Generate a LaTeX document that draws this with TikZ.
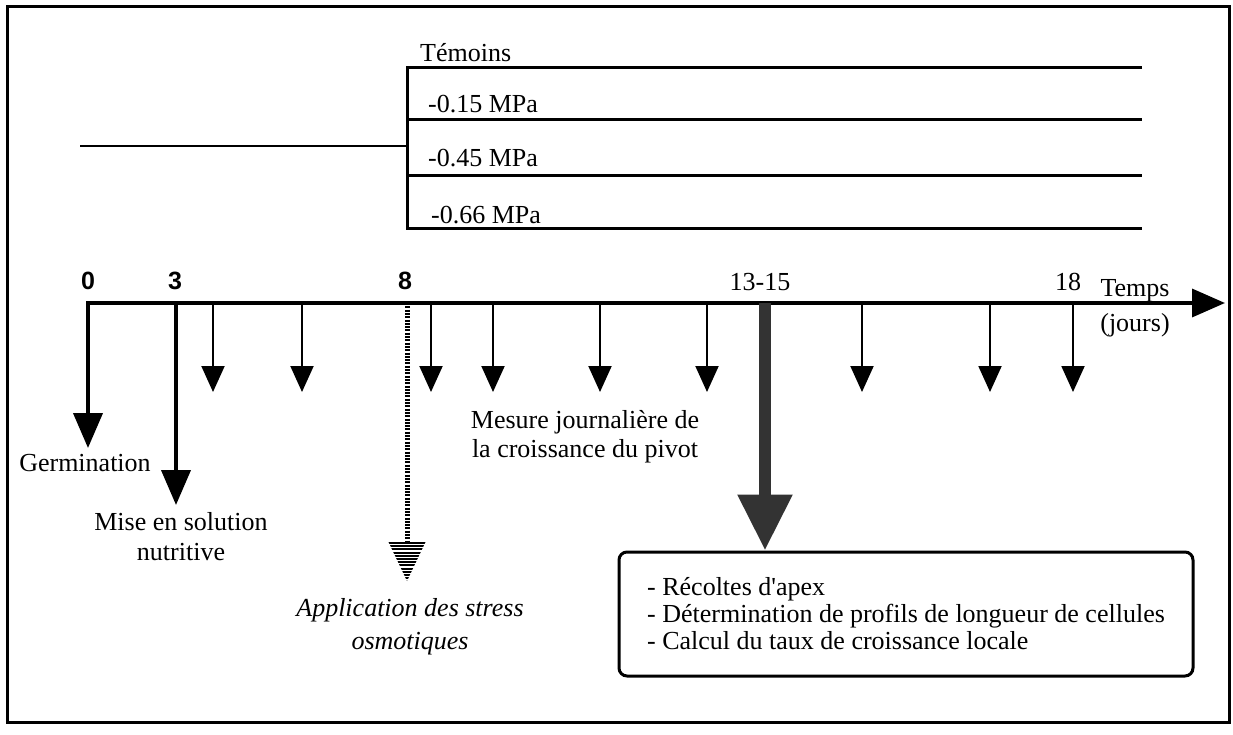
\documentclass[tikz,border=0pt]{standalone}
\usepackage{fontspec}
\setmainfont{Liberation Serif}
\setsansfont{Liberation Sans}
\usetikzlibrary{arrows.meta,positioning}

\begin{document}
\begin{tikzpicture}[x=1pt, y=-1pt,
    lbl/.style={font=\fontsize{26}{30}\selectfont, inner sep=0pt},
    lblit/.style={font=\itshape\fontsize{26}{33}\selectfont, inner sep=0pt},
    tick/.style={font=\sffamily\bfseries\fontsize{25}{29}\selectfont, inner sep=0pt},
    trait/.style={line width=3pt},
    etape/.style={-{Triangle[width=29pt,length=35pt]}, line width=4pt},
    mesure/.style={-{Triangle[width=23pt,length=26pt]}, line width=2pt},
    bilanbox/.style={draw, rounded corners=8pt, line width=3pt,
               minimum width=574pt, minimum height=124pt, align=left,
               font=\fontsize{26}{27}\selectfont, inner sep=0pt}
  ]
  \useasboundingbox (0,0) rectangle (1233,735);
  \draw[line width=3pt] (7,7) rectangle (1229,722);

  % traitements
  \coordinate (depart) at (80,146);
  \coordinate (embranch) at (407,146);
  \draw[line width=2pt] (depart) -- (embranch);
  \draw[trait] (1142,68) -| (407,229) -- (1142,229);
  \foreach \y in {120,176}
    \draw[trait] (407,\y) -- (1142,\y);
  \node[lbl, anchor=west] (temoins) at (420,53)  {Témoins};
  \node[lbl, anchor=west] (p015)    at (428,104) {-0.15 MPa};
  \node[lbl, anchor=west] (p045)    at (428,158) {-0.45 MPa};
  \node[lbl, anchor=west] (p066)    at (431,215) {-0.66 MPa};

  % axe du temps
  \coordinate (t0) at (86,303);
  \coordinate (tfin) at (1225,303);
  \draw[line width=3.5pt, -{Triangle[width=28pt,length=33pt]}] (t0) -- (tfin);
  \node[tick] (j0)  at (88,281)   {0};
  \node[tick] (j3)  at (175,281)  {3};
  \node[tick] (j8)  at (405,281)  {8};
  \node[lbl]  (j13) at (760,282)  {13-15};
  \node[lbl]  (j18) at (1068,282) {18};
  \node[lbl]  (temps) at (1135,291) {Temps};
  \node[lbl]  (jours) at (1135,325) {(jours)};

  % germination et mise en solution
  \coordinate (r0) at (88,303);
  \coordinate (g0) at (88,448);
  \coordinate (r3) at (176,303);
  \coordinate (g3) at (176,505);
  \draw[etape] (r0) -- (g0);
  \draw[etape] (r3) -- (g3);
  \node[lbl] (germ) at (85,463) {Germination};
  \node[lbl, align=center] (mise) at (181,537) {Mise en solution\\nutritive};

  % mesures journalieres
  \foreach \x [count=\i] in {213,302,431,493,600,707,862,990,1073} {
    \coordinate (m\i) at (\x,303);
    \coordinate (f\i) at (\x,392);
    \draw[mesure] (m\i) -- (f\i);
  }
  \node[lbl, font=\fontsize{26}{29}\selectfont, align=center] (mesure)
    at (585,437) {Mesure journalière de\\la croissance du pivot};

  % application des stress
  \coordinate (r8) at (407,303);
  \coordinate (s8) at (407,542);
  \draw[line width=5pt, dash pattern=on 2pt off 1.3pt] (r8) -- (s8);
  \begin{scope}
    \clip (388.5,542) -- (425.5,542) -- (407,581) -- cycle;
    \foreach \k in {0,...,12}
      \draw[line width=2pt] (385,{543+\k*3.2}) -- (430,{543+\k*3.2});
  \end{scope}
  \node[lblit, align=center] (appli) at (410,627)
    {Application des stress\\osmotiques};

  % recolte
  \node[bilanbox] (bilan) at (906,614)
    {- Récoltes d\textquotesingle apex\\- Détermination de profils de longueur de cellules\\- Calcul du taux de croissance locale};
  \coordinate (r13) at (765,303);
  \draw[line width=12pt, black!80, -{Triangle[width=52pt,length=56pt]}]
    (r13) -- (r13 |- bilan.north);
\end{tikzpicture}
\end{document}
